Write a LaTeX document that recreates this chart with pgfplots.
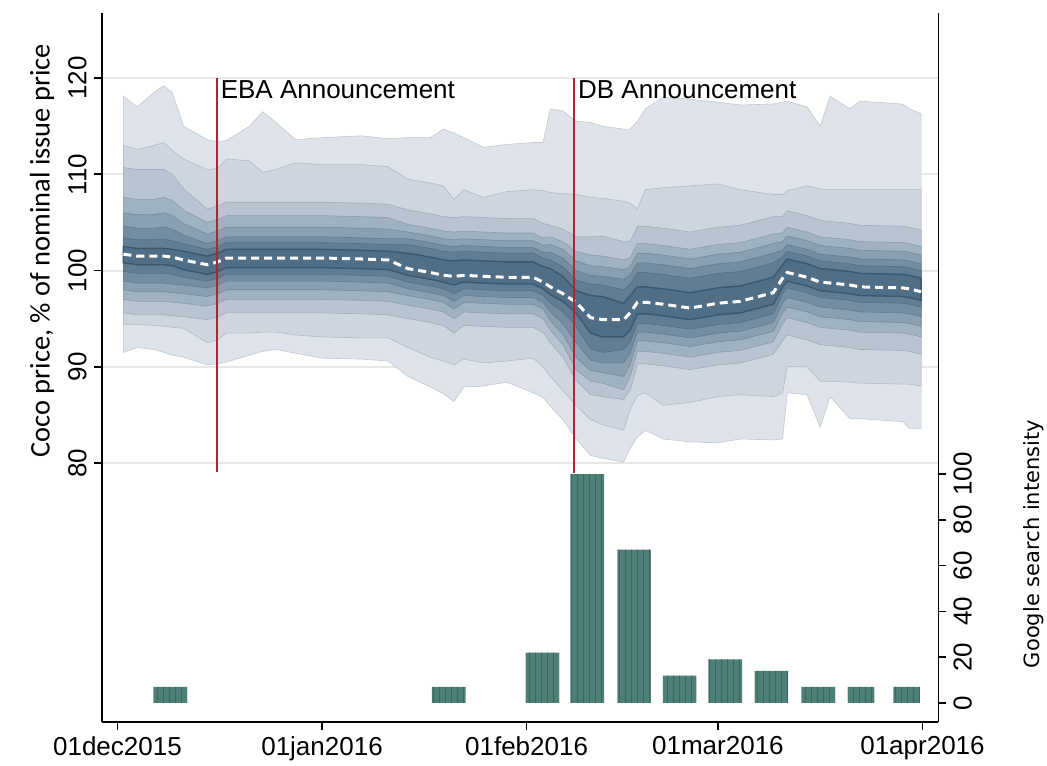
\documentclass[border=0pt]{standalone}
\usepackage{fontspec}
\setmainfont{Liberation Sans}
\newfontfamily\carlito{Carlito}
\newfontfamily\dejavu{DejaVu Sans}
\usepackage{pgfplots}
\pgfplotsset{compat=1.18}
\usepackage{pgfplotstable}
\usepgfplotslibrary{fillbetween}
\usetikzlibrary{patterns}

\definecolor{band1}{RGB}{222,228,234}
\definecolor{band2}{RGB}{205,214,222}
\definecolor{band3}{RGB}{184,197,208}
\definecolor{band4}{RGB}{160,178,192}
\definecolor{band5}{RGB}{138,159,176}
\definecolor{band6}{RGB}{117,141,160}
\definecolor{band7}{RGB}{98,125,146}
\definecolor{band8}{RGB}{80,110,133}
\definecolor{edge8}{RGB}{58,88,112}
\definecolor{barc}{RGB}{78,128,120}
\definecolor{barl}{RGB}{58,104,97}
\definecolor{redl}{RGB}{165,42,55}

\pgfplotstableread{
x m u1 u2 u3 u4 u5 u6 u7 u8 l8 l7 l6 l5 l4 l3 l2 l1
0.9 101.7 118.1 113.0 110.7 107.6 106.0 104.6 103.4 102.5 100.8 99.9 98.9 98.0 97.0 95.6 94.4 91.5
3.0 101.5 117.0 112.6 110.5 107.4 105.8 104.4 103.2 102.3 100.6 99.7 98.7 97.8 96.8 95.4 94.4 92.0
5.5 101.5 118.5 113.0 110.5 107.4 105.8 104.4 103.2 102.3 100.6 99.7 98.7 97.8 96.8 95.4 94.3 91.8
7.0 101.5 119.2 113.3 110.5 107.6 106.0 104.5 103.3 102.3 100.6 99.7 98.7 97.8 96.8 95.4 94.2 91.5
8.3 101.4 118.5 112.5 110.0 107.3 105.7 104.3 103.1 102.2 100.5 99.6 98.6 97.7 96.7 95.3 94.1 91.2
10.0 101.1 115.0 111.6 108.5 106.3 104.9 103.7 102.8 102.0 100.1 99.3 98.5 97.6 96.6 95.2 94.0 91.0
13.6 100.6 113.6 110.5 106.4 105.0 103.8 102.8 102.2 101.5 99.6 98.9 98.2 97.3 96.3 94.9 92.5 90.2
15.2 100.9 113.4 110.6 106.7 105.3 104.1 103.1 102.5 101.8 99.9 99.2 98.5 97.6 96.6 95.2 92.8 90.3
16.5 101.3 113.5 111.6 107.1 105.7 104.5 103.5 102.9 102.2 100.3 99.6 98.9 98.0 97.0 95.6 93.5 90.5
20.0 101.3 115.0 111.4 107.1 105.7 104.5 103.5 102.9 102.2 100.3 99.6 98.9 98.0 97.0 95.6 93.5 91.2
22.0 101.3 116.5 110.2 107.1 105.7 104.5 103.5 102.9 102.2 100.3 99.6 98.9 98.0 97.0 95.6 93.6 91.6
24.0 101.3 115.4 110.5 107.1 105.7 104.5 103.5 102.9 102.2 100.3 99.6 98.9 98.0 97.0 95.6 93.6 91.8
27.0 101.3 113.6 111.2 107.1 105.7 104.5 103.5 102.9 102.2 100.3 99.6 98.9 98.0 97.0 95.6 93.3 91.4
31.0 101.3 113.8 111.0 107.1 105.7 104.5 103.5 102.9 102.2 100.3 99.6 98.9 98.0 97.0 95.6 93.1 90.9
37.0 101.2 114.0 111.0 107.0 105.6 104.4 103.4 102.8 102.1 100.2 99.5 98.8 97.9 96.9 95.5 93.0 90.8
41.0 101.1 113.7 110.8 106.9 105.5 104.3 103.3 102.7 102.0 100.1 99.4 98.7 97.8 96.8 95.4 93.0 90.6
44.0 100.2 113.8 109.5 106.3 104.8 104.0 103.3 102.7 101.8 99.5 98.8 98.1 97.4 96.4 95.0 92.0 89.0
47.4 99.8 113.8 109.1 105.9 104.4 103.6 102.9 102.3 101.4 99.1 98.4 97.7 97.0 96.0 94.6 91.0 87.9
49.4 99.5 114.7 108.8 105.6 104.1 103.3 102.6 102.0 101.1 98.8 98.1 97.4 96.7 95.7 94.3 90.6 87.2
51.0 99.4 114.3 107.4 105.5 104.0 103.2 102.5 101.9 101.0 98.5 97.6 96.8 96.0 95.0 93.5 90.2 86.4
52.5 99.5 113.8 108.4 105.6 104.1 103.3 102.6 102.0 101.1 98.8 98.1 97.4 96.7 95.7 94.3 90.8 87.9
55.5 99.4 112.8 107.6 105.5 104.0 103.2 102.5 101.9 101.0 98.7 98.0 97.3 96.6 95.6 94.2 90.4 88.0
59.0 99.3 113.1 108.2 105.4 103.9 103.1 102.4 101.8 100.9 98.6 97.9 97.2 96.5 95.5 94.1 90.6 88.4
63.0 99.3 113.3 108.4 105.4 103.9 103.1 102.4 101.8 100.9 98.6 97.9 97.2 96.5 95.5 94.1 90.9 87.3
64.5 98.8 113.3 108.3 104.9 103.4 102.6 101.9 101.3 100.4 98.1 97.4 96.7 96.0 95.0 93.6 90.0 86.8
65.6 98.3 116.8 108.1 104.7 103.5 102.7 101.9 101.1 100.2 97.5 96.6 95.7 94.8 93.8 92.5 89.0 85.9
67.5 97.6 116.6 108.0 104.3 103.0 102.2 101.3 100.4 99.4 96.8 95.7 94.5 93.4 92.3 91.0 87.5 84.5
69.5 96.7 115.5 107.9 103.5 102.0 101.0 100.0 99.0 97.9 95.6 94.2 92.5 91.0 89.7 88.6 86.0 82.5
71.7 95.1 115.4 107.6 103.5 101.6 100.5 99.5 98.6 97.4 93.5 91.9 90.7 89.6 88.5 87.1 84.5 80.8
73.5 94.9 115.0 107.5 103.6 101.5 100.4 99.4 98.5 97.3 93.1 91.5 90.4 89.4 88.3 86.9 84.0 80.5
76.7 94.9 114.7 107.2 103.0 101.1 100.1 99.1 98.0 96.6 93.1 91.8 90.4 89.0 87.6 86.6 83.4 80.1
77.7 95.6 114.7 107.0 103.0 101.3 100.4 99.5 98.6 97.4 93.8 92.6 91.4 90.2 89.0 87.6 85.5 81.5
78.8 96.7 115.5 106.4 104.6 102.8 101.8 100.8 99.8 98.3 95.5 94.5 93.6 92.7 91.6 90.3 87.0 82.7
80.0 96.7 116.8 108.4 104.6 102.8 101.8 100.8 99.8 98.3 95.5 94.5 93.6 92.7 91.6 90.3 87.3 83.4
82.7 96.5 118.0 108.6 104.4 102.6 101.6 100.6 99.6 98.1 95.3 94.3 93.4 92.5 91.4 90.1 86.0 82.5
86.8 96.1 117.8 108.8 104.0 102.2 101.2 100.2 99.2 97.7 94.9 93.9 93.0 92.1 91.0 89.7 86.3 82.2
91.0 96.6 117.5 109.0 104.5 102.7 101.7 100.7 99.7 98.2 95.4 94.4 93.5 92.6 91.5 90.2 86.9 82.1
94.4 96.8 117.2 108.4 104.7 102.9 101.9 100.9 99.9 98.4 95.6 94.6 93.7 92.8 91.7 90.4 87.1 82.5
99.4 97.7 117.3 107.9 105.6 103.8 102.8 101.8 100.8 99.3 96.5 95.5 94.6 93.7 92.6 91.3 86.9 82.4
100.8 99.2 117.5 107.9 105.6 103.9 103.0 102.1 101.4 100.6 98.3 97.6 96.6 95.6 94.5 92.7 87.3 82.5
101.5 99.8 117.6 108.3 106.2 104.5 103.6 102.7 102.0 101.2 98.9 98.2 97.2 96.2 95.1 93.3 90.0 87.3
104.5 99.3 117.0 108.8 105.7 104.0 103.1 102.2 101.5 100.7 98.4 97.7 96.7 95.7 94.6 92.8 90.0 87.1
106.5 98.8 115.0 108.5 105.2 103.5 102.6 101.7 101.0 100.2 97.9 97.2 96.2 95.2 94.1 92.3 88.5 83.7
108.0 98.7 118.1 108.4 105.1 103.4 102.5 101.6 100.9 100.1 97.8 97.1 96.1 95.1 94.0 92.2 88.5 86.9
111.0 98.5 116.8 108.4 104.9 103.2 102.3 101.4 100.7 99.9 97.6 96.9 95.9 94.9 93.8 92.0 88.4 84.6
112.5 98.3 117.6 108.4 104.7 103.0 102.1 101.2 100.5 99.7 97.4 96.7 95.7 94.7 93.6 91.8 88.3 84.6
119.0 98.2 117.3 108.4 104.6 102.9 102.0 101.1 100.4 99.6 97.3 96.6 95.6 94.6 93.5 91.7 88.2 84.3
120.0 98.1 116.8 108.4 104.5 102.8 101.9 101.0 100.3 99.5 97.2 96.5 95.5 94.5 93.4 91.6 88.2 83.6
121.8 97.8 116.3 108.4 104.2 102.5 101.6 100.7 100.0 99.2 96.9 96.2 95.2 94.2 93.1 91.3 88.0 83.6
}\fan

\begin{document}
\begin{tikzpicture}
\begin{axis}[
  at={(0pt,0pt)}, anchor=south west,
  width=418.3pt, height=354.3pt, scale only axis,
  xmin=-2.39, xmax=124.4, ymin=53.12, ymax=126.75,
  axis x line*=bottom, axis y line*=left,
  axis line style={-, line width=0.8pt, black},
  xtick={0,31,62,91,122},
  xticklabels={01dec2015,01jan2016,01feb2016,01mar2016,01apr2016},
  ytick={80,90,100,110,120},
  yticklabels={80,90,100,110,120},
  tick align=outside, major tick length=4pt,
  tick style={line width=0.8pt, black},
  tick label style={font=\fontsize{13}{15}\selectfont},
  /pgf/number format/assume math mode=true,
  yticklabel style={rotate=90, anchor=south},
  ymajorgrids, major grid style={line width=1pt, color=black!9},
  clip=false,
]
\pgfplotsinvokeforeach{1,...,7}{
  \addplot[draw=none, name path=U#1, forget plot] table[x=x, y=u#1] {\fan};
  \addplot[draw=none, name path=L#1, forget plot] table[x=x, y=l#1] {\fan};
  \addplot[fill=band#1, draw=band#1!88!black, line width=0.3pt] fill between[of=U#1 and L#1];
}
\addplot[draw=none, name path=U8, forget plot] table[x=x, y=u8] {\fan};
\addplot[draw=none, name path=L8, forget plot] table[x=x, y=l8] {\fan};
\addplot[fill=band8, draw=edge8, line width=0.7pt] fill between[of=U8 and L8];
\addplot[white, line width=1.5pt, dash pattern=on 4pt off 2.5pt] table[x=x, y=m] {\fan};
\addplot[redl, line width=1pt] coordinates {(15.03,79.1) (15.03,120)};
\addplot[redl, line width=1pt] coordinates {(69.2,78.96) (69.2,120)};
\node[anchor=base west, inner sep=0pt, font=\fontsize{13}{15}\selectfont] at (axis cs:15.6,117.9) {EBA Announcement};
\node[anchor=base west, inner sep=0pt, font=\fontsize{13}{15}\selectfont] at (axis cs:69.75,117.9) {DB Announcement};
\end{axis}
\begin{axis}[
  at={(0pt,0pt)}, anchor=south west,
  width=418.3pt, height=354.3pt, scale only axis,
  xmin=-2.39, xmax=124.4, ymin=-8.17, ymax=301.3,
  axis y line*=right, axis x line=none,
  axis line style={-, line width=0.8pt, black},
  ytick={0,20,40,60,80,100},
  yticklabels={0,20,40,60,80,100},
  tick align=outside, major tick length=4pt,
  tick style={line width=0.8pt, black},
  tick label style={font=\fontsize{13}{15}\selectfont},
  /pgf/number format/assume math mode=true,
  yticklabel style={rotate=90, anchor=north},
  clip=false,
]
\addplot[ybar, bar width=5.1, fill=barc, draw=none, postaction={pattern=vertical lines, pattern color=barl}]
  coordinates {(8.0,7) (50.2,7) (64.4,22) (71.2,100) (78.3,67) (85.2,12) (92.1,19) (99.1,14) (106.2,7)};
\addplot[ybar, bar width=4.0, fill=barc, draw=none, postaction={pattern=vertical lines, pattern color=barl}]
  coordinates {(112.7,7) (119.6,7)};
\end{axis}
\node[rotate=90, font=\carlito\fontsize{14.2}{16}\selectfont] at (-29.8pt,235.4pt) {Coco price, \% of nominal issue price};
\node[rotate=90, font=\dejavu\fontsize{10.5}{12}\selectfont] at (466.2pt,88.9pt) {Google search intensity};
\pgfresetboundingbox
\useasboundingbox (-50.85pt,-21.65pt) rectangle (472.65pt,360.85pt);
\end{tikzpicture}
\end{document}
